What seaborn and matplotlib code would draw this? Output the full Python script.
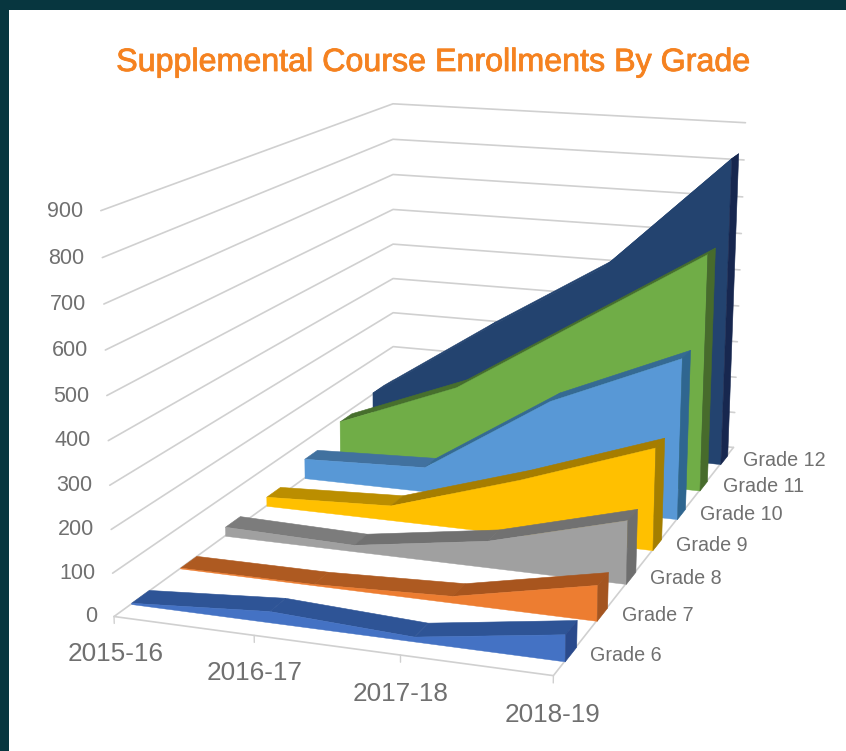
"""
Supplemental course enrollments by grade, drawn as a 3D area chart
with one ribbon per grade on mplot3d axes.
"""

import numpy as np
import pandas as pd
import matplotlib
matplotlib.use('Agg')
import matplotlib.pyplot as plt
import matplotlib.patheffects as pe
from matplotlib.patches import Rectangle
from mpl_toolkits.mplot3d import proj3d
from mpl_toolkits.mplot3d.art3d import Poly3DCollection
import seaborn as sns

years = ['2015-16', '2016-17', '2017-18', '2018-19']
grades = ['Grade 6', 'Grade 7', 'Grade 8', 'Grade 9', 'Grade 10', 'Grade 11', 'Grade 12']
value_ticks = [0, 100, 200, 300, 400, 500, 600, 700, 800, 900]

grade_6 = [3, 26, 11, 60]
grade_7 = [2, 3, 16, 83]
grade_8 = [23, 16, 65, 153]
grade_9 = [24, 38, 140, 255]
grade_10 = [53, 65, 273, 413]
grade_11 = [88, 215, 420, 624]
grade_12 = [106, 320, 520, 830]

front_colors = ['#4472C4', '#ED7D31', '#A0A0A0', '#FFC000', '#5898D6', '#70AD47', '#23436F']
top_colors = ['#2E5496', '#AE5A21', '#7C7C7C', '#BB8E00', '#41719F', '#4B7430', '#22426F']
rise_colors = ['#2E5496', '#A8551E', '#717171', '#A67D00', '#356A93', '#476F2D', '#22426F']
side_colors = ['#2A4A8C', '#A45520', '#6E6E6E', '#A47E00', '#2F6690', '#476B2C', '#17274F']

GREY_TEXT = '#707070'
GRID = '#D0D0D0'
TITLE = '#F58220'
DEPTH_FRONT, DEPTH_BACK = 0.33, 0.68

sns.set_theme(style="white")
plt.rcParams['font.family'] = ['Liberation Sans', 'DejaVu Sans']

df = pd.DataFrame(
    [grade_6, grade_7, grade_8, grade_9, grade_10, grade_11, grade_12],
    index=grades, columns=years
)

W, H = 846, 751
SCALE, CX, CY = 4772.10, 460.73, 345.37   # camera fit, pixels per projection unit

fig = plt.figure(figsize=(W / 100, H / 100), dpi=100, facecolor='#07363F')
fig.add_artist(Rectangle((9 / W, 0), 1, 1 - 10 / H, transform=fig.transFigure,
                         facecolor='white', edgecolor='none', zorder=-1))

side = 0.185 * SCALE
ax = fig.add_axes([(CX - 0.095 * SCALE) / W, (H - CY - 0.095 * SCALE) / H, side / W, side / H],
                  projection='3d', computed_zorder=False)
ax.patch.set_alpha(0)
ax.set_xlim(0, 3)
ax.set_ylim(0, 7)
ax.set_zlim(0, 900)
ax.view_init(13.95, -71.292, -0.377)
ax.set_proj_type('persp', focal_length=0.4734)
ax.set_box_aspect((1, 1.7433, 0.8999))
ax.set_axis_off()
M = ax.get_proj()


def label(x, y, z, text, **kw):
    # project by hand so the label is a plain 2D text at its real place
    px, py, _ = proj3d.proj_transform(x, y, z, M)
    ax.text2D(px, py, text, transform=ax.transData, color=GREY_TEXT, va='center', **kw)


# ── walls and floor ──────────────────────────────────────────────
for v in value_ticks:
    ax.plot([0, 0, 3], [0, 7, 7], [v, v, v], color=GRID, lw=1.2, zorder=1)
    label(-0.125, 0, v - 5, str(v), ha='right', fontsize=15.5)

ax.plot([0, 3, 3], [0, 0, 7], [0, 0, 0], color=GRID, lw=1.2, zorder=1)

for i, year in enumerate(years):
    ax.plot([i, i], [0, 0], [0, -16], color=GRID, lw=1.0, zorder=1)
    label(i, 0, -87, year, ha='center', fontsize=18.8)

for j, grade in enumerate(grades):
    label(3.13 + 0.005 * j, j + 0.5, 4, grade, ha='left', fontsize=14.2)

# ── ribbons, back to front ───────────────────────────────────────
xs = np.arange(len(years))
for j in reversed(range(len(grades))):
    vals = df.iloc[j].to_numpy(dtype=float)
    y0, y1 = j + DEPTH_FRONT, j + DEPTH_BACK
    base = 10 + 4 * (len(grades) - j)

    for k in range(len(xs) - 1):
        seg = [(xs[k], y0, vals[k]), (xs[k + 1], y0, vals[k + 1]),
               (xs[k + 1], y1, vals[k + 1]), (xs[k], y1, vals[k])]
        color = rise_colors[j] if vals[k + 1] - vals[k] > 45 else top_colors[j]
        ax.add_collection3d(Poly3DCollection([seg], facecolor=color, edgecolor=color,
                                             linewidths=0.4, zorder=base), autolim=False)

    face = [(xs[0], y0, 0)] + [(x, y0, v) for x, v in zip(xs, vals)] + [(xs[-1], y0, 0)]
    ax.add_collection3d(Poly3DCollection([face], facecolor=front_colors[j], edgecolor=front_colors[j],
                                         linewidths=0.3, zorder=base + 1), autolim=False)

    right = [(xs[-1], y0, 0), (xs[-1], y1, 0), (xs[-1], y1, vals[-1]), (xs[-1], y0, vals[-1])]
    ax.add_collection3d(Poly3DCollection([right], facecolor=side_colors[j], edgecolor=side_colors[j],
                                         linewidths=0.4, zorder=base + 2), autolim=False)

fig.text(433.5 / W, 1 - 63 / H, 'Supplemental Course Enrollments By Grade', ha='center', va='center',
         fontsize=23.2, color=TITLE,
         path_effects=[pe.withStroke(linewidth=0.6, foreground=TITLE)])

fig.savefig('out.png', dpi=100, facecolor=fig.get_facecolor())
